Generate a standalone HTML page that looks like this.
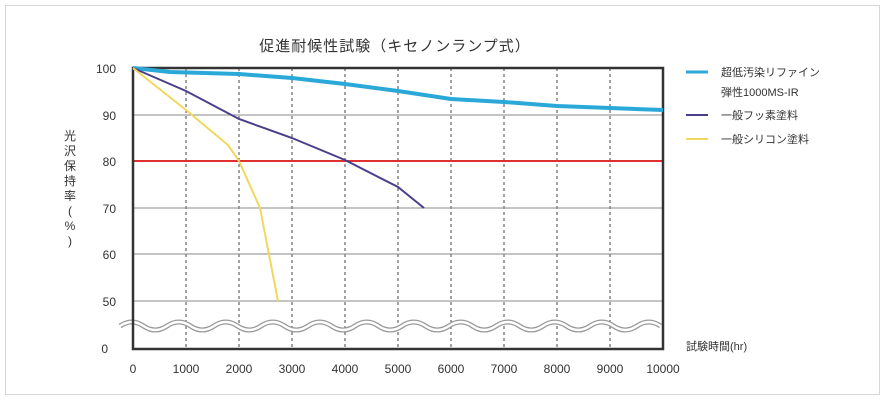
<!DOCTYPE html>
<html><head><meta charset="utf-8"><style>
body{margin:0;background:#fff;}
svg{display:block;font-family:"Liberation Sans","Noto Sans CJK JP",sans-serif;}
</style></head><body>
<svg width="886" height="403" viewBox="0 0 886 403">
<rect x="5.5" y="5.5" width="874" height="389" fill="#fff" stroke="#d6d6d6"/>
<text x="395" y="51" font-size="15" text-anchor="middle" fill="#333" letter-spacing="1">促進耐候性試験（キセノンランプ式）</text>
<g stroke="#444" stroke-width="1" stroke-dasharray="3,3">
<line x1="186" y1="68" x2="186" y2="349"/><line x1="239" y1="68" x2="239" y2="349"/><line x1="292" y1="68" x2="292" y2="349"/><line x1="345" y1="68" x2="345" y2="349"/><line x1="398" y1="68" x2="398" y2="349"/><line x1="451" y1="68" x2="451" y2="349"/><line x1="504" y1="68" x2="504" y2="349"/><line x1="557" y1="68" x2="557" y2="349"/><line x1="610" y1="68" x2="610" y2="349"/>
</g>
<g stroke="#888" stroke-width="1">
<line x1="133" y1="115" x2="663" y2="115"/><line x1="133" y1="208" x2="663" y2="208"/><line x1="133" y1="254" x2="663" y2="254"/><line x1="133" y1="301" x2="663" y2="301"/>
</g>
<line x1="133" y1="161" x2="663" y2="161" stroke="#e03030" stroke-width="2"/>
<path id="w" d="M120 326 q11.75 -8 23.5 0 t23.5 0 t23.5 0 t23.5 0 t23.5 0 t23.5 0 t23.5 0 t23.5 0 t23.5 0 t23.5 0 t23.5 0 t23.5 0 t23.5 0 t23.5 0 t23.5 0 t23.5 0 t23.5 0 t23.5 0 t23.5 0 t23.5 0 t23.5 0 t23.5 0 t23.5 0" fill="none" stroke="#999" stroke-width="5"/>
<path d="M120 326 q11.75 -8 23.5 0 t23.5 0 t23.5 0 t23.5 0 t23.5 0 t23.5 0 t23.5 0 t23.5 0 t23.5 0 t23.5 0 t23.5 0 t23.5 0 t23.5 0 t23.5 0 t23.5 0 t23.5 0 t23.5 0 t23.5 0 t23.5 0 t23.5 0 t23.5 0 t23.5 0 t23.5 0" fill="none" stroke="#fff" stroke-width="2.5"/>
<rect x="133" y="68" width="530" height="281" fill="none" stroke="#333" stroke-width="2.5"/>
<polyline fill="none" stroke="#2aa8d8" stroke-width="4" stroke-linejoin="round" points="133,68 170,72 239,74 292,78 345,84 398,91 451,99 504,102 557,106 610,108 663,110"/>
<polyline fill="none" stroke="#4a3f8a" stroke-width="2" points="133,68 186,91 239,119 292,138 345,160 398,187 424,208"/>
<polyline fill="none" stroke="#f0d860" stroke-width="2" points="133,68 186,110 228,145 239,161 260,208 278,301"/>
<g font-size="12" fill="#333" text-anchor="end">
<text x="116" y="73">100</text><text x="116" y="120">90</text><text x="116" y="166">80</text><text x="116" y="213">70</text><text x="116" y="259">60</text><text x="116" y="306">50</text><text x="108" y="353">0</text>
</g>
<g font-size="12" fill="#333" text-anchor="middle">
<text x="133" y="373">0</text><text x="186" y="373">1000</text><text x="239" y="373">2000</text><text x="292" y="373">3000</text><text x="345" y="373">4000</text><text x="398" y="373">5000</text><text x="451" y="373">6000</text><text x="504" y="373">7000</text><text x="557" y="373">8000</text><text x="610" y="373">9000</text><text x="663" y="373">10000</text>
</g>
<g font-size="12" fill="#333" text-anchor="middle">
<text x="70" y="140">光</text><text x="70" y="155">沢</text><text x="70" y="170">保</text><text x="70" y="185">持</text><text x="70" y="200">率</text><text x="70" y="215">(</text><text x="70" y="230">%</text><text x="70" y="245">)</text>
</g>
<text x="686" y="350" font-size="11" fill="#333">試験時間(hr)</text>
<line x1="686" y1="72" x2="708" y2="72" stroke="#2aa8d8" stroke-width="3"/>
<line x1="686" y1="115" x2="708" y2="115" stroke="#4a3f8a" stroke-width="2"/>
<line x1="686" y1="139" x2="708" y2="139" stroke="#f0d860" stroke-width="2"/>
<g font-size="11" fill="#333">
<text x="721" y="76">超低汚染リファイン</text><text x="721" y="96">弾性1000MS-IR</text>
<text x="721" y="119">一般フッ素塗料</text><text x="721" y="143">一般シリコン塗料</text>
</g>
</svg>
</body></html>
